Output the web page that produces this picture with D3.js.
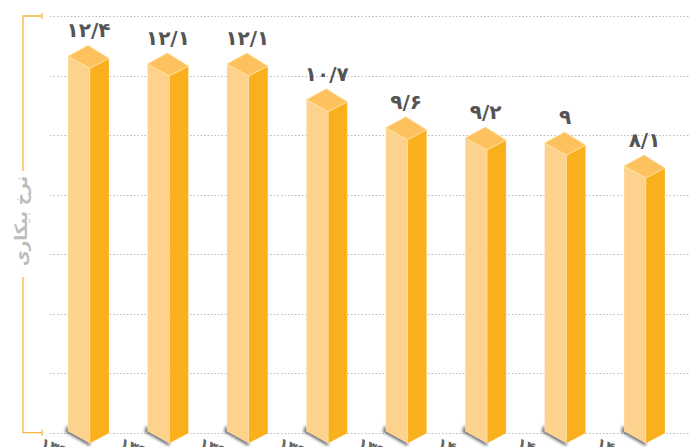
<!DOCTYPE html>
<html>
<head>
<meta charset="utf-8">
<script src="https://cdn.jsdelivr.net/npm/d3@7"></script>
<style>
  html, body { margin: 0; padding: 0; background: #fff; overflow: hidden; }
  text { font-family: "DejaVu Sans", sans-serif; }
</style>
</head>
<body>
<div id="chart"></div>
<script>
// data
const years = ['۱۳۹۵', '۱۳۹۶', '۱۳۹۷', '۱۳۹۸', '۱۳۹۹', '۱۴۰۰', '۱۴۰۱', '۱۴۰۲'];
const rates = [12.4, 12.1, 12.1, 10.7, 9.6, 9.2, 9.0, 8.1];
const rateLabels = ['۱۲/۴', '۱۲/۱', '۱۲/۱', '۱۰/۷', '۹/۶', '۹/۲', '۹', '۸/۱'];
const axisTitle = 'نرخ بیکاری';

const width = 689;
const height = 447;

const svg = d3.select('#chart')
  .append('svg')
  .attr('width', width)
  .attr('height', height);

const yMin = -14 / 6;
const yMax = 14;
const y = d3.scaleLinear().domain([yMin, yMax]).range([432.7, 16]);
const x = d3.scalePoint().domain(years).range([88.5, 644.5]);

// grid
const gridVals = d3.range(0, 8).map(i => yMin + i * (14 / 6));
svg.append('g')
  .attr('class', 'grid')
  .selectAll('line')
  .data(gridVals)
  .enter()
  .append('line')
  .attr('x1', 50)
  .attr('x2', width)
  .attr('y1', d => Math.round(y(d)) + 0.5)
  .attr('y2', d => Math.round(y(d)) + 0.5)
  .attr('stroke', '#b9b9b9')
  .attr('stroke-width', 1)
  .attr('stroke-dasharray', '1.5,2');

// axis bracket
const axisColor = '#f8b53f';
const ax = svg.append('g').attr('fill', 'none').attr('stroke', axisColor).attr('stroke-width', 1.3);
ax.append('path').attr('d', `M42,${y(yMax)}H23V171`);
ax.append('path').attr('d', `M23,277V${y(yMin)}H42`);
ax.append('path').attr('d', `M42,${y(yMax) - 3}V${y(yMax) + 3}M42,${y(yMin) - 3}V${y(yMin) + 3}`);

svg.append('text')
  .attr('transform', 'translate(27,221) rotate(-90)')
  .attr('text-anchor', 'middle')
  .attr('fill', '#bdbdbd')
  .attr('font-size', 17)
  .attr('font-weight', 'bold')
  .text(axisTitle);

// shadow filter
const defs = svg.append('defs');
defs.append('filter')
  .attr('id', 'blur')
  .attr('x', '-50%').attr('y', '-50%').attr('width', '200%').attr('height', '200%')
  .append('feGaussianBlur')
  .attr('stdDeviation', 1.6);

// bars
const wL = 22, wR = 19, dy = 11.5;
const bottom = y(yMin) - 1;

const bars = svg.append('g')
  .attr('class', 'bars')
  .selectAll('g')
  .data(rates)
  .enter()
  .append('g');

const left = (d, i) => x(years[i]) - 20.5;

bars.append('path')
  .attr('fill', '#3a3a3a')
  .attr('opacity', 0.75)
  .attr('filter', 'url(#blur)')
  .attr('d', (d, i) => {
    const L = left(d, i);
    return `M${L - 1},${bottom - 6}L${L + wL},${bottom + dy - 1}L${L + wL},${bottom + dy + 3}L${L - 3},${bottom}Z`;
  });

bars.append('path')
  .attr('fill', '#fdd28c')
  .attr('stroke', '#fff')
  .attr('stroke-opacity', 0.35)
  .attr('stroke-width', 0.7)
  .attr('d', (d, i) => {
    const L = left(d, i), c = y(d);
    return `M${L},${c - 0.5}L${L + wL},${c + dy}L${L + wL},${bottom + dy}L${L},${bottom - 0.5}Z`;
  });

bars.append('path')
  .attr('fill', '#fab01c')
  .attr('stroke', '#fff')
  .attr('stroke-opacity', 0.3)
  .attr('stroke-width', 0.7)
  .attr('d', (d, i) => {
    const L = left(d, i), c = y(d);
    return `M${L + wL},${c + dy}L${L + wL + wR},${c + 1.5}L${L + wL + wR},${bottom + 1.5}L${L + wL},${bottom + dy}Z`;
  });

bars.append('path')
  .attr('fill', '#fdc25e')
  .attr('stroke', '#ffe2a8')
  .attr('stroke-width', 0.8)
  .attr('d', (d, i) => {
    const L = left(d, i), c = y(d);
    return `M${L},${c - 0.5}L${L + 20},${c - dy}L${L + wL + wR},${c + 1.5}L${L + wL},${c + dy}Z`;
  });

bars.append('text')
  .attr('x', (d, i) => x(years[i]))
  .attr('y', d => y(d) - 19.5)
  .attr('text-anchor', 'middle')
  .attr('font-size', 20)
  .attr('font-weight', 'bold')
  .attr('fill', '#545454')
  .text((d, i) => rateLabels[i]);

// x labels (cut by the bottom edge, as in the reference)
svg.append('g')
  .selectAll('text')
  .data(years)
  .enter()
  .append('text')
  .attr('transform', d => `translate(${x(d) - 45},436) rotate(20)`)
  .attr('dy', '0.8em')
  .attr('text-anchor', 'start')
  .attr('font-size', 15)
  .attr('font-weight', 'bold')
  .attr('fill', '#666')
  .text(d => d);
</script>
</body>
</html>
